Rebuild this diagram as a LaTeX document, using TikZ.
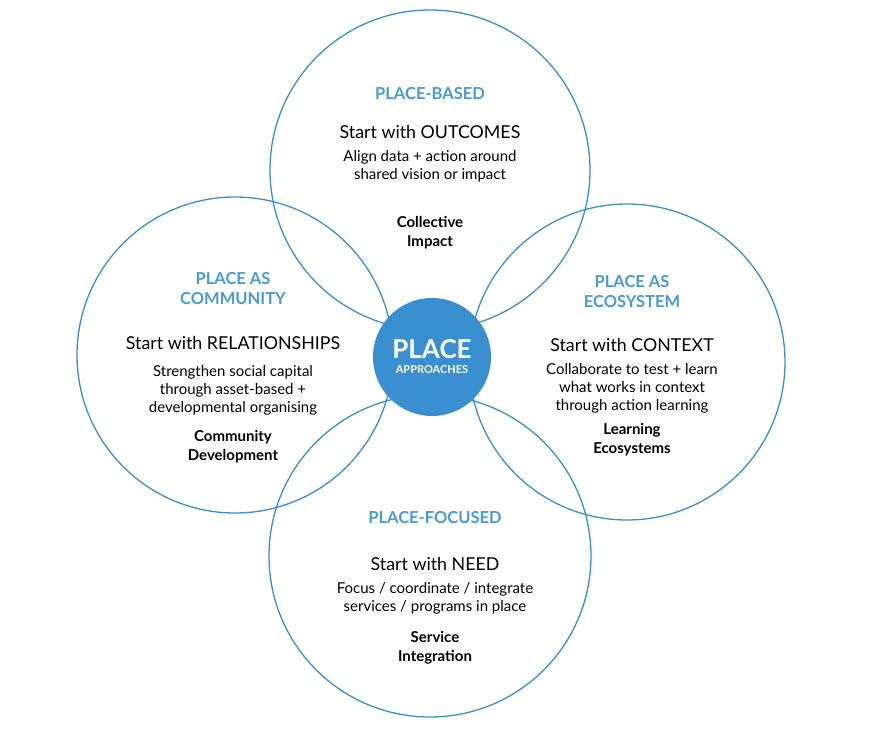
\documentclass[tikz,border=0pt]{standalone}
\usepackage{fontspec}
\setmainfont{Lato}
\definecolor{cblue}{HTML}{3A8FD0}
\definecolor{tblue}{HTML}{4A9AD6}
\begin{document}
\begin{tikzpicture}[x=1pt,y=-1pt,
 ring/.style={draw=cblue,line width=1.3pt,circle,inner sep=0},
 ttl/.style={text=tblue,font=\fontsize{16.5}{20}\selectfont\bfseries,align=center},
 hd/.style={font=\fontsize{17.8}{19}\selectfont,align=center},
 bd/.style={font=\fontsize{15}{18}\selectfont,align=center},
 bl/.style={font=\fontsize{15}{19}\selectfont\bfseries,align=center}]
\useasboundingbox[fill=white] (0,0) rectangle (873,736);
\node[ring,minimum size=320pt] (top) at (430,170) {};
\node[ring,minimum size=316pt] (left) at (235,355) {};
\node[ring,minimum size=316pt] (right) at (627,362) {};
\node[ring,minimum size=322pt] (bot) at (430,556) {};
\node[circle,fill=cblue,minimum size=118pt,inner sep=0] (c) at (432,357) {};
\node[text=white,font=\fontsize{26}{26}\selectfont\bfseries] (c1) at (432,349) {PLACE};
\node[text=white,font=\fontsize{11}{11}\selectfont\bfseries] (c2) at (432,370) {APPROACHES};
\node[ttl] (t1) at (430,94) {PLACE-BASED};
\node[hd] (t2) at (430,132) {Start with OUTCOMES};
\node[bd] (t3) at (430,166) {Align data + action around\\shared vision or impact};
\node[bl] (t4) at (430,233) {Collective\\Impact};
\node[ttl] (l1) at (233,289) {PLACE AS\\COMMUNITY};
\node[hd] (l2) at (233,343) {Start with RELATIONSHIPS};
\node[bd] (l3) at (233,390) {Strengthen social capital\\through asset-based +\\developmental organising};
\node[bl] (l4) at (233,447) {Community\\Development};
\node[ttl] (r1) at (632,292) {PLACE AS\\ECOSYSTEM};
\node[hd] (r2) at (632,345) {Start with CONTEXT};
\node[bd] (r3) at (632,388) {Collaborate to test + learn\\what works in context\\through action learning};
\node[bl] (r4) at (632,440) {Learning\\Ecosystems};
\node[ttl] (b1) at (435,518) {PLACE-FOCUSED};
\node[hd] (b2) at (435,564) {Start with NEED};
\node[bd] (b3) at (435,598) {Focus / coordinate / integrate\\services / programs in place};
\node[bl] (b4) at (435,648) {Service\\Integration};
\end{tikzpicture}
\end{document}
